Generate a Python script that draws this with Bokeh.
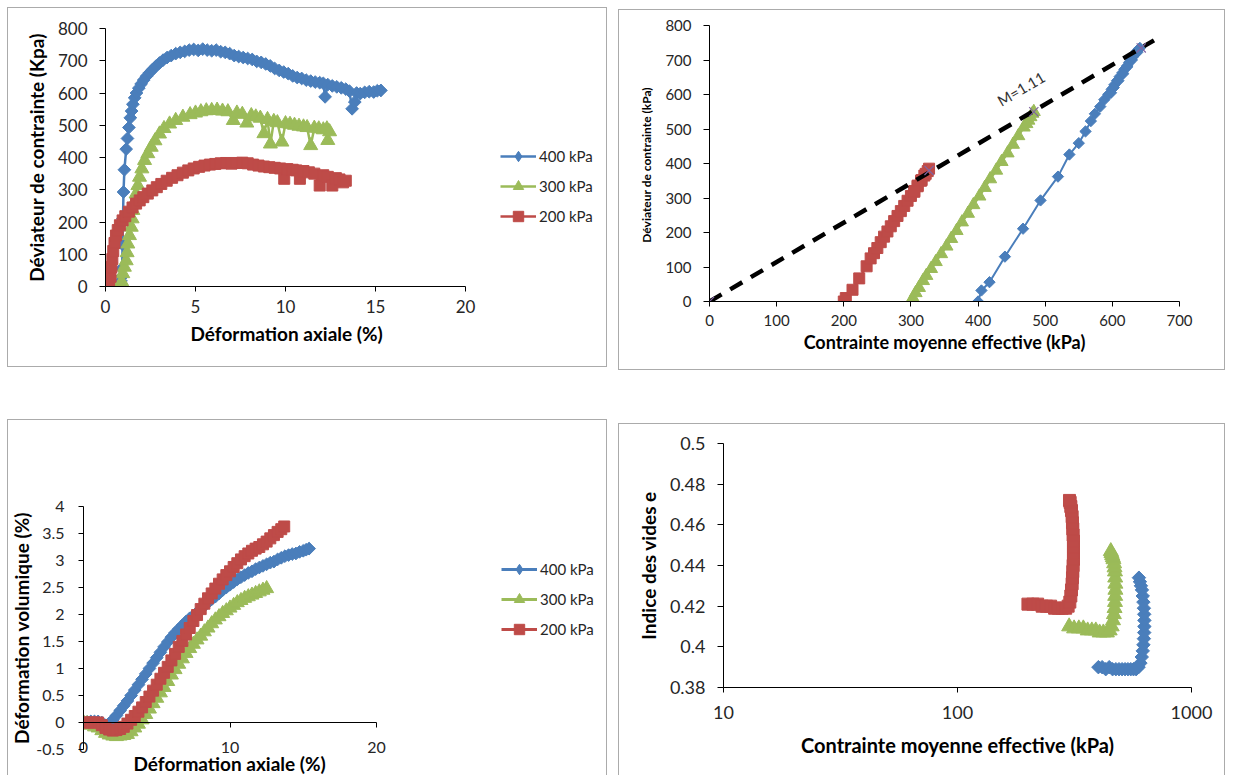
from bokeh.plotting import figure
from bokeh.models import Range1d, FixedTicker, Legend, LegendItem, Label, Spacer, LinearAxis, Title
from bokeh.layouts import row, column
from bokeh.embed import file_html
from bokeh.resources import INLINE

FONT = "Lato"
BLUE, GREEN, RED, PURPLE = "#4A7EBB", "#9BBB59", "#BE4B48", "#8064A2"
TICK_C = "#262626"

series_labels = ["400 kPa", "300 kPa", "200 kPa"]

# ---------------- Panel 1 : deviator vs axial strain ----------------
ea_400 = [0, 0.3, 0.6, 0.8, 0.86, 0.9, 0.92, 0.95, 0.97, 1.0, 1.05, 1.15, 1.22, 1.3, 1.38, 1.45, 1.52, 1.62, 1.72, 1.85,
          1.98, 2.12, 2.28, 2.45, 2.62, 2.8, 3.0, 3.2, 3.42, 3.65, 3.9, 4.15, 4.4, 4.65, 4.9, 5.15, 5.4, 5.65, 5.9, 6.15,
          6.4, 6.65, 6.9, 7.15, 7.4, 7.65, 7.9, 8.15, 8.4, 8.65, 8.9, 9.15, 9.4, 9.65, 9.9, 10.15, 10.4, 10.65, 10.9, 11.15,
          11.4, 11.65, 11.9, 12.1, 12.2, 12.35, 12.6, 12.85, 13.1, 13.35, 13.55, 13.7, 13.85, 13.95, 14.15, 14.4, 14.65, 14.9, 15.1, 15.3]
q_400 = [0, 0, 2, 5, 17, 30, 56, 130, 211, 293, 362, 426, 459, 493, 523, 544, 565, 585, 600, 615,
         628, 640, 652, 663, 673, 683, 693, 702, 710, 716, 722, 726, 729, 733, 735, 732, 736, 733, 731, 733,
         728, 726, 722, 716, 713, 710, 707, 704, 698, 695, 690, 684, 676, 670, 665, 660, 653, 648, 645, 640,
         637, 634, 632, 630, 588, 626, 622, 619, 616, 612, 606, 551, 572, 600, 598, 602, 604, 603, 607, 608]

ea_300 = [0, 0.4, 0.8, 0.9, 0.96, 1.05, 1.15, 1.2, 1.24, 1.33, 1.43, 1.48, 1.52, 1.6, 1.7, 1.8, 1.89, 2.02, 2.17, 2.35,
          2.54, 2.75, 3.0, 3.25, 3.56, 3.9, 4.3, 4.7, 5.0, 5.3, 5.6, 5.9, 6.2, 6.5, 6.8, 7.1, 7.3, 7.6, 7.85, 8.1,
          8.35, 8.6, 8.8, 9.0, 9.16, 9.35, 9.55, 9.8, 10.0, 10.25, 10.5, 10.75, 11.0, 11.2, 11.4, 11.6, 11.85, 12.1, 12.3, 12.35, 12.45]
q_300 = [0, 0, 3, 15, 40, 60, 80, 105, 132, 158, 184, 210, 236, 262, 287, 313, 339, 365, 391, 412,
         432, 452, 473, 490, 504, 515, 525, 533, 538, 542, 545, 546, 547, 544, 542, 515, 538, 534, 507, 530,
         526, 522, 474, 518, 442, 512, 508, 448, 505, 503, 500, 497, 495, 493, 437, 491, 489, 486, 489, 453, 480]

ea_200 = [0, 0.1, 0.2, 0.28, 0.33, 0.38, 0.43, 0.5, 0.58, 0.68, 0.8, 0.95, 1.1, 1.3, 1.5, 1.7, 1.9, 2.1, 2.35, 2.6,
          2.85, 3.1, 3.4, 3.7, 4.0, 4.3, 4.6, 4.9, 5.2, 5.5, 5.8, 6.1, 6.4, 6.7, 7.0, 7.3, 7.6, 7.9, 8.2, 8.5,
          8.8, 9.1, 9.4, 9.7, 9.93, 10.1, 10.4, 10.6, 10.8, 11.0, 11.3, 11.6, 11.9, 12.1, 12.35, 12.6, 12.8, 13.0, 13.2, 13.35]
q_200 = [0, 3, 8, 30, 60, 85, 110, 135, 158, 175, 190, 205, 218, 232, 245, 257, 267, 277, 288, 298,
         308, 318, 328, 337, 345, 353, 360, 366, 371, 375, 378, 380, 382, 383, 381, 383, 384, 382, 378, 375,
         372, 370, 368, 366, 334, 364, 362, 360, 334, 358, 354, 350, 313, 345, 340, 313, 336, 332, 323, 328]

x1_ticks = [0, 5, 10, 15, 20]
x1_labels = ["0", "5", "10", "15", "20"]
y1_ticks = [0, 100, 200, 300, 400, 500, 600, 700, 800]
y1_labels = ["0", "100", "200", "300", "400", "500", "600", "700", "800"]

# ---------------- Panel 2 : stress paths q - p' ----------------
p_400 = [400, 405, 417, 440, 467, 493, 519, 536, 550, 560, 568, 574, 582, 588, 594, 599, 603, 607, 611, 615,
         618, 622, 625, 628, 631, 633, 635, 637, 639, 641, 637, 629, 622, 616, 609, 602, 598]
qp_400 = [0, 32, 56, 130, 211, 293, 362, 426, 459, 493, 523, 544, 565, 585, 600, 615, 628, 640, 652, 663,
          673, 683, 693, 702, 710, 716, 722, 726, 731, 735, 722, 700, 680, 660, 640, 620, 605]
p_300 = [300, 303, 307, 312, 318, 323, 330, 337, 345, 353, 360, 368, 376, 385, 393, 402, 410, 418, 427, 435,
         444, 452, 460, 468, 475, 481, 483, 478, 472]
qp_300 = [0, 10, 25, 40, 60, 75, 95, 115, 138, 160, 182, 205, 230, 255, 280, 305, 330, 355, 380, 405,
          430, 455, 480, 505, 525, 545, 550, 535, 515]
p_200 = [200, 203, 213, 223, 234, 240, 245, 250, 255, 260, 265, 270, 275, 280, 285, 290, 295, 300, 305, 310,
         315, 320, 325, 327, 322, 316, 310, 305]
qp_200 = [0, 10, 34, 67, 102, 125, 140, 155, 172, 188, 203, 218, 233, 248, 262, 277, 292, 306, 320, 336,
          350, 365, 378, 385, 370, 352, 334, 318]
cs_p = [0, 327, 483, 643]
cs_q = [0, 380, 550, 735]
csl_p = [0, 662]
csl_q = [0, 757]
m_text = "M=1.11"

x2_ticks = [0, 100, 200, 300, 400, 500, 600, 700]
x2_labels = ["0", "100", "200", "300", "400", "500", "600", "700"]
y2_ticks = y1_ticks
y2_labels = y1_labels

# ---------------- Panel 3 : volumetric vs axial strain ----------------
ea3_400 = [0, 0.25, 0.5, 0.75, 1.0, 1.25, 1.5, 1.75, 2.0, 2.25, 2.5, 2.75, 3.0, 3.25, 3.5, 3.75, 4.0, 4.25, 4.5, 4.75,
           5.0, 5.25, 5.5, 5.75, 6.0, 6.25, 6.5, 6.75, 7.0, 7.25, 7.5, 7.75, 8.0, 8.25, 8.5, 8.75, 9.0, 9.25, 9.5, 9.75,
           10.0, 10.25, 10.5, 10.75, 11.0, 11.25, 11.5, 11.75, 12.0, 12.25, 12.5, 12.75, 13.0, 13.25, 13.5, 13.75,
           14.0, 14.25, 14.5, 14.75, 15.0, 15.2, 15.4]
ev_400 = [0, 0.01, 0.02, 0.02, 0.02, 0.0, -0.05, -0.02, 0.05, 0.13, 0.22, 0.31, 0.4, 0.5, 0.6, 0.7, 0.8, 0.9, 1.0, 1.1,
          1.2, 1.3, 1.4, 1.49, 1.58, 1.66, 1.73, 1.8, 1.87, 1.93, 1.98, 2.04, 2.1, 2.16, 2.22, 2.28, 2.33, 2.39, 2.45, 2.5,
          2.55, 2.6, 2.65, 2.69, 2.73, 2.77, 2.8, 2.84, 2.87, 2.9, 2.93, 2.96, 2.98, 3.02, 3.05, 3.08,
          3.1, 3.12, 3.13, 3.16, 3.18, 3.2, 3.22]
ea3_300 = [0, 0.25, 0.5, 0.75, 1.0, 1.25, 1.5, 1.75, 2.0, 2.25, 2.5, 2.75, 3.0, 3.25, 3.5, 3.75, 4.0, 4.25, 4.5, 4.75,
           5.0, 5.25, 5.5, 5.75, 6.0, 6.25, 6.5, 6.75, 7.0, 7.25, 7.5, 7.75, 8.0, 8.25, 8.5, 8.75, 9.0, 9.25, 9.5, 9.75,
           10.0, 10.25, 10.5, 10.75, 11.0, 11.25, 11.5, 11.75, 12.0, 12.25, 12.5]
ev_300 = [0, -0.02, -0.05, -0.08, -0.1, -0.15, -0.2, -0.23, -0.25, -0.26, -0.25, -0.24, -0.22, -0.17, -0.1, -0.03, 0.05, 0.15, 0.25, 0.35,
          0.45, 0.55, 0.65, 0.76, 0.88, 0.98, 1.08, 1.18, 1.28, 1.37, 1.45, 1.53, 1.6, 1.68, 1.75, 1.83, 1.9, 1.96, 2.02, 2.07,
          2.12, 2.17, 2.22, 2.26, 2.3, 2.33, 2.36, 2.39, 2.42, 2.45, 2.48]
ea3_200 = [0, 0.25, 0.5, 0.75, 1.0, 1.25, 1.5, 1.75, 2.0, 2.25, 2.5, 2.75, 3.0, 3.25, 3.5, 3.75, 4.0, 4.25, 4.5, 4.75,
           5.0, 5.25, 5.5, 5.75, 6.0, 6.25, 6.5, 6.75, 7.0, 7.25, 7.5, 7.75, 8.0, 8.25, 8.5, 8.75, 9.0, 9.25, 9.5, 9.75,
           10.0, 10.25, 10.5, 10.75, 11.0, 11.25, 11.5, 11.75, 12.0, 12.25, 12.5, 12.75, 13.0, 13.25, 13.5, 13.7]
ev_200 = [0, 0, 0, 0, 0, -0.05, -0.1, -0.13, -0.15, -0.14, -0.12, -0.08, -0.02, 0.05, 0.12, 0.2, 0.28, 0.38, 0.48, 0.59,
          0.7, 0.81, 0.92, 1.03, 1.15, 1.27, 1.4, 1.51, 1.63, 1.75, 1.88, 1.99, 2.1, 2.2, 2.3, 2.39, 2.48, 2.57, 2.65, 2.73,
          2.8, 2.88, 2.95, 3.02, 3.08, 3.13, 3.18, 3.22, 3.25, 3.3, 3.35, 3.41, 3.47, 3.53, 3.58, 3.63]

x3_ticks = [0, 10, 20]
x3_labels = ["0", "10", "20"]
y3_ticks = [-0.5, 0, 0.5, 1, 1.5, 2, 2.5, 3, 3.5, 4]
y3_labels = ["-0.5", "0", "0.5", "1", "1.5", "2", "2.5", "3", "3.5", "4"]

# ---------------- Panel 4 : void ratio vs log p' ----------------
pe_400 = [400, 415, 430, 445, 460, 475, 490, 505, 520, 535, 550, 565, 580, 594, 605, 613, 619, 623, 626, 628,
          629, 629, 628, 626, 623, 619, 614, 608, 602, 596]
e_400 = [0.390, 0.390, 0.389, 0.390, 0.389, 0.389, 0.389, 0.389, 0.389, 0.389, 0.389, 0.389, 0.389, 0.390, 0.392,
         0.395, 0.398, 0.401, 0.404, 0.407, 0.410, 0.413, 0.416, 0.419, 0.422, 0.425, 0.428, 0.430, 0.432, 0.434]
pe_300 = [300, 315, 330, 345, 360, 375, 390, 405, 420, 435, 447, 456, 462, 466, 469, 471, 472, 473, 473, 472,
          471, 469, 467, 464, 461, 458, 455, 452]
e_300 = [0.410, 0.409, 0.409, 0.409, 0.408, 0.408, 0.408, 0.407, 0.407, 0.407, 0.408, 0.410, 0.413, 0.416, 0.419,
         0.422, 0.425, 0.428, 0.431, 0.434, 0.437, 0.439, 0.441, 0.443, 0.444, 0.445, 0.446, 0.447]
pe_200 = [200, 210, 220, 230, 240, 250, 260, 270, 280, 290, 297, 302, 305, 307, 309, 310, 311, 312, 313, 313,
          313, 313, 312, 311, 310, 309, 307, 305, 303, 301]
e_200 = [0.421, 0.421, 0.421, 0.420, 0.420, 0.420, 0.419, 0.419, 0.419, 0.419, 0.420, 0.422, 0.425, 0.428, 0.431,
         0.434, 0.437, 0.440, 0.443, 0.446, 0.449, 0.452, 0.455, 0.458, 0.461, 0.464, 0.467, 0.469, 0.471, 0.472]

x4_ticks = [10, 100, 1000]
x4_labels = ["10", "100", "1000"]
y4_ticks = [0.38, 0.4, 0.42, 0.44, 0.46, 0.48, 0.5]
y4_labels = ["0.38", "0.4", "0.42", "0.44", "0.46", "0.48", "0.5"]


def base(width, height, left, right, top, bottom, xr, yr, xtype="linear", open_bottom=False):
    p = figure(width=width, height=height, x_range=xr, y_range=yr, x_axis_type=xtype,
               output_backend="svg", toolbar_location=None,
               min_border_left=left, min_border_right=right,
               min_border_top=top, min_border_bottom=bottom)
    p.grid.visible = False
    p.outline_line_color = None
    p.background_fill_color = None
    p.border_fill_color = None
    if open_bottom:
        p.styles = {"box-shadow": "inset 1px 1px 0 0 #ABABAB, inset -1px 0 0 0 #ABABAB"}
    else:
        p.styles = {"box-shadow": "inset 0 0 0 1px #ABABAB"}
    return p


def style_axis(ax, ticks, labels, tick_size, title, title_size, tick_out, lab_standoff, title_standoff,
               line=True):
    ax.ticker = FixedTicker(ticks=ticks)
    ax.major_label_overrides = dict(zip(ticks, labels))
    ax.axis_label = title
    ax.axis_line_color = "black" if line else None
    ax.major_tick_line_color = "black" if line else None
    ax.major_tick_out = tick_out
    ax.major_tick_in = 0
    ax.minor_tick_line_color = None
    ax.major_label_text_font = FONT
    ax.major_label_text_font_size = tick_size
    ax.major_label_text_color = TICK_C
    ax.major_label_standoff = lab_standoff
    ax.axis_label_text_font = FONT
    ax.axis_label_text_font_style = "bold"
    ax.axis_label_text_font_size = title_size
    ax.axis_label_text_color = "black"
    ax.axis_label_standoff = title_standoff


def bottom_title(p, text, size, offset, standoff):
    # left-aligned title, shifted so it sits centred under the 0..20 axis
    p.add_layout(Title(text=text, align="left", offset=offset, standoff=standoff,
                       text_font=FONT, text_font_size=size, text_font_style="bold",
                       text_color="black"), "below")


def series(p, x, y, color, marker, size, angle=0.0, lw=2.5):
    l = p.line(x, y, line_color=color, line_width=lw)
    s = p.scatter(x, y, marker=marker, size=size, angle=angle, fill_color=color, line_color=color)
    return [l, s]


def legend(p, rs, loc):
    items = [LegendItem(label=lab, renderers=r) for lab, r in zip(series_labels, rs)]
    leg = Legend(items=items, location=loc, padding=0, margin=0, spacing=4,
                 glyph_width=36, glyph_height=26, label_standoff=3,
                 label_text_font=FONT, label_text_font_size="15px", label_text_color=TICK_C,
                 border_line_color=None, background_fill_color=None)
    p.add_layout(leg)


DIAM = 0.785398

# Panel 1 : frame extends right to hold the legend; axis bounded to 0..20
p1 = base(600, 360, 98, 7, 21, 81, Range1d(0, 20 * 495 / 360), Range1d(0, 800))
style_axis(p1.xaxis[0], x1_ticks, x1_labels, "17px", None, "17px", 5, 8, 0)
p1.xaxis[0].bounds = (x1_ticks[0], x1_ticks[-1])
bottom_title(p1, "Déformation axiale (%)", "19px", 85, 8)
style_axis(p1.yaxis[0], y1_ticks, y1_labels, "17px", "Déviateur de contrainte (Kpa)", "19px", 6, 12, 7)
d1 = p1.scatter(ea_400[-1:], q_400[-1:], marker="diamond", size=12, fill_color=BLUE, line_color=BLUE)
r4 = series(p1, ea_400, q_400, BLUE, "square", 9, DIAM)
r3 = series(p1, ea_300, q_300, GREEN, "triangle", 14)
r2 = series(p1, ea_200, q_200, RED, "square", 11)
legend(p1, [[r4[0], d1], r3, r2], (395, 57))

# Panel 2
p2 = base(607, 361, 91, 46, 16, 69, Range1d(0, 700), Range1d(0, 800))
style_axis(p2.xaxis[0], x2_ticks, x2_labels, "15px", "Contrainte moyenne effective (kPa)", "18px", 5, 8, 2)
style_axis(p2.yaxis[0], y2_ticks, y2_labels, "15px", "Déviateur de contrainte  (kPa)", "12px", 6, 12, 8)
series(p2, p_200, qp_200, RED, "square", 11)
series(p2, p_300, qp_300, GREEN, "triangle", 13)
series(p2, p_400, qp_400, BLUE, "square", 8, DIAM, lw=2)
p2.line(csl_p, csl_q, line_color="black", line_width=4.5, line_dash="14 10")
p2.scatter(cs_p, cs_q, marker="x", size=13, line_color=PURPLE, line_width=1.2)
p2.add_layout(Label(x=464, y=617, text=m_text, angle=0.53, text_font=FONT, text_font_size="15px",
                    text_color="#333333", text_align="center", text_baseline="middle"))

# Panel 3 : frame extends right to hold the legend
p3 = base(600, 356, 76, 7, 87, 26, Range1d(0, 20 * 517 / 293), Range1d(-0.5, 4), open_bottom=True)
style_axis(p3.xaxis[0], x3_ticks, x3_labels, "16px", None, "16px", 0, -8, 0, line=False)
p3.xaxis[0].bounds = (x3_ticks[0], x3_ticks[-1])
bottom_title(p3, "Déformation axiale (%)", "19px", 50, -11)
style_axis(p3.yaxis[0], y3_ticks, y3_labels, "16px", "Déformation volumique (%)", "19px", 5, 14, 0)
zero_axis = LinearAxis(fixed_location=0, bounds=(x3_ticks[0], x3_ticks[-1]), ticker=FixedTicker(ticks=x3_ticks),
                       major_label_text_color=None, major_tick_out=0, major_tick_in=5,
                       minor_tick_line_color=None, axis_line_color="black", major_tick_line_color="black")
p3.add_layout(zero_axis, "above")
d3 = p3.scatter(ea3_400[-1:], ev_400[-1:], marker="diamond", size=12, fill_color=BLUE, line_color=BLUE)
s4 = series(p3, ea3_400, ev_400, BLUE, "square", 9, DIAM, lw=3)
s3 = series(p3, ea3_300, ev_300, GREEN, "triangle", 14, lw=3)
s2 = series(p3, ea3_200, ev_200, RED, "square", 11, lw=3)
legend(p3, [[s4[0], d3], s3, s2], (418, 107))

# Panel 4
p4 = base(607, 352, 105, 34, 20, 88, Range1d(10, 1000), Range1d(0.38, 0.5), xtype="log", open_bottom=True)
style_axis(p4.xaxis[0], x4_ticks, x4_labels, "18px", "Contrainte moyenne effective (kPa)", "20px", 5, 13, 11)
style_axis(p4.yaxis[0], y4_ticks, y4_labels, "18px", "Indice des vides e", "19px", 6, 12, 7)
series(p4, pe_200, e_200, RED, "square", 12, lw=3)
series(p4, pe_300, e_300, GREEN, "triangle", 15, lw=3)
series(p4, pe_400, e_400, BLUE, "square", 9.5, DIAM, lw=3)

layout = column(
    Spacer(height=7),
    row(
        Spacer(width=7),
        column(
            row(p1, Spacer(width=11), column(Spacer(height=2), p2)),
            Spacer(height=49),
            row(p3, Spacer(width=11), column(Spacer(height=4), p4)),
        ),
    ),
)

open("out.html", "w").write(file_html(layout, INLINE))
